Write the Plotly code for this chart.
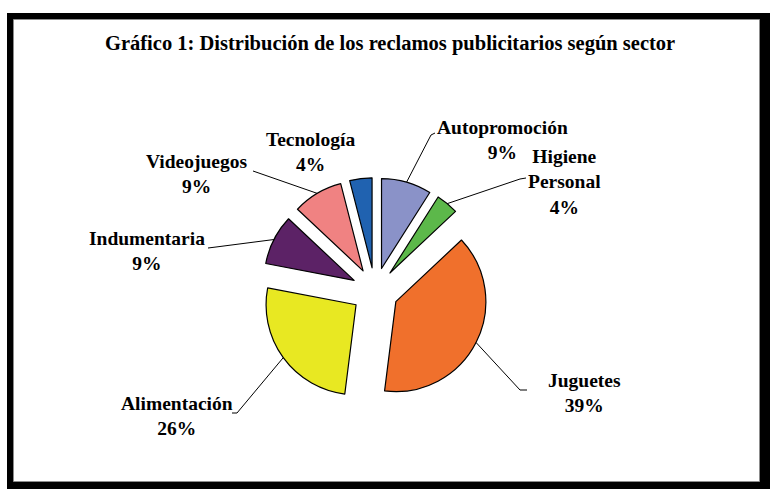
import math
import plotly.graph_objects as go

# ---- data ----
categories = ["Autopromoción", "Higiene Personal", "Juguetes", "Alimentación",
              "Indumentaria", "Videojuegos", "Tecnología"]
values = [9, 4, 39, 26, 9, 9, 4]
colors = ["#8a92c8", "#5cb84a", "#f0702c", "#e8e822", "#5c2266", "#f08282", "#2062b0"]
title_text = "Gráfico 1: Distribución de los reclamos publicitarios según sector"

# ---- layout constants (pixels) ----
W, H = 770, 489
CX, CY = 375, 291        # pie centre
R = 90                   # pie radius
PULL = 0.26
side = 2 * R * (1 + PULL)

def px(x):
    return x / W

def py(y):
    return 1 - y / H

# label centres and leader-line end points (pixels)
label_pos = [(502, 140), (564, 182), (584, 393), (177, 416), (147, 251), (197, 174), (310, 152)]
leader_end = [[(431, 135), (435, 133)],
              [(520, 179), (526, 178)],
              [(520, 390), (527, 390)],
              [(237, 413), (232, 413)],
              [(216, 247), (208, 248)],
              [(253, 171)],
              None]

fig = go.Figure()
fig.add_trace(go.Pie(
    labels=categories,
    values=values,
    sort=False,
    direction="clockwise",
    rotation=0,
    pull=[PULL] * len(values),
    marker=dict(colors=colors, line=dict(color="black", width=1.2)),
    textinfo="none",
    showlegend=False,
    domain=dict(x=[px(CX - side / 2), px(CX + side / 2)],
                y=[py(CY + side / 2), py(CY - side / 2)]),
))

shapes = [
    dict(type="rect", xref="paper", yref="paper", x0=px(7), x1=1, y0=0, y1=py(13),
         fillcolor="black", line=dict(width=0), layer="below"),
    dict(type="rect", xref="paper", yref="paper", x0=px(13.5), x1=px(759.5), y0=py(481.5), y1=py(19.5),
         fillcolor="white", line=dict(color="#8c8c8c", width=1), layer="below"),
]

annotations = [dict(text="<b>" + title_text + "</b>", xref="paper", yref="paper",
                    x=px(390), y=py(44), showarrow=False, xanchor="center", yanchor="middle",
                    font=dict(family="Liberation Serif", size=20.5, color="black"))]

total = sum(values)
cum = 0
for i, (cat, v) in enumerate(zip(categories, values)):
    theta = 2 * math.pi * (cum + v / 2) / total
    cum += v
    rr = R * (1 + PULL)
    sx = CX + rr * math.sin(theta)
    sy = CY - rr * math.cos(theta)
    txt = "<b>" + cat.replace(" ", "<br>") + "<br>" + f"{v}%" + "</b>"
    lx, ly = label_pos[i]
    annotations.append(dict(text=txt, xref="paper", yref="paper", x=px(lx), y=py(ly),
                            showarrow=False, xanchor="center", yanchor="middle", align="center",
                            font=dict(family="Liberation Serif", size=19.5, color="black")))
    if leader_end[i]:
        pts = [(sx, sy)] + leader_end[i]
        path = "M " + " L ".join(f"{px(a)},{py(b)}" for a, b in pts)
        shapes.append(dict(type="path", xref="paper", yref="paper", path=path,
                           line=dict(color="black", width=1)))

fig.update_layout(
    width=W, height=H,
    margin=dict(l=0, r=0, t=0, b=0),
    paper_bgcolor="white",
    shapes=shapes,
    annotations=annotations,
)

fig.write_html("out.html", config={"displayModeBar": False},
               post_script="document.body.style.margin='0px';document.body.style.overflow='hidden';")
